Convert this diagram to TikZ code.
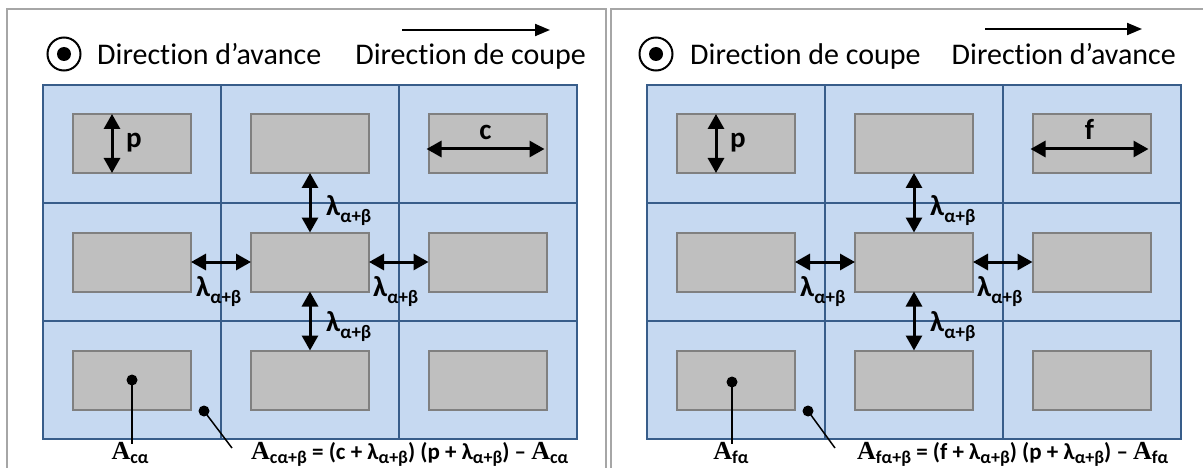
\documentclass[tikz,border=0pt]{standalone}
\usepackage{fontspec}
\setmainfont{Carlito}[Ligatures=NoCommon]
\newfontfamily\serifA{Liberation Serif}
\usetikzlibrary{arrows.meta}
\definecolor{cellfill}{HTML}{C6D9F1}
\definecolor{cellline}{HTML}{385D8A}
\definecolor{boxfill}{HTML}{BFBFBF}
\definecolor{boxline}{HTML}{808080}
\definecolor{framecol}{HTML}{A6A6A6}
\newcommand{\lsub}[1]{\raisebox{-0.25em}{\fontsize{19}{19}\selectfont\bfseries #1}}
\newcommand{\fsub}[1]{\raisebox{-0.18em}{\fontsize{18}{18}\selectfont\bfseries #1}}
\newcommand{\lamlab}{\fontsize{29}{30}\selectfont\bfseries λ\lsub{α+β}}
\newcommand{\Asym}{{\serifA\fontsize{26}{28}\selectfont\bfseries A}}
\tikzset{
  cell/.style={draw=cellline, fill=cellfill, line width=2pt, minimum width=178pt, minimum height=118pt, inner sep=0pt, outer sep=0pt},
  gbox/.style={draw=boxline, fill=boxfill, line width=2pt, minimum width=118pt, minimum height=59pt, inner sep=0pt, outer sep=0pt},
  dimarrow/.style={line width=3pt, {Triangle[length=15pt,width=16pt]}-{Triangle[length=15pt,width=16pt]}},
  hdrarrow/.style={line width=2pt, -{Triangle[length=15pt,width=12pt]}},
  framel/.style={draw=framecol, line width=2pt},
  hdr/.style={font=\fontsize{30}{34}\selectfont, inner sep=0pt},
  lab/.style={font=\fontsize{29}{30}\selectfont\bfseries, inner sep=0pt},
  lamnode/.style={inner sep=0pt, anchor=base west},
  formula/.style={font=\fontsize{23}{26}\selectfont\bfseries, inner sep=0pt},
  ptr/.style={line width=1.5pt},
}
\begin{document}
\begin{tikzpicture}[x=1pt, y=-1pt]
\useasboundingbox (0,0) rectangle (1203,468);
\fill[white] (0,0) rectangle (1203,468);
% frames
\draw[framel] (7,470) -- (7,9) -- (606,9) -- (606,470);
\draw[framel] (611,470) -- (611,9) -- (1205,9);

% ---------- left panel ----------
\foreach \r/\y in {1/144,2/262,3/380}
  \foreach \c/\x in {1/132,2/310,3/487.5}
    \node[cell] (L-c\r\c) at (\x,\y) {};
\foreach \r/\y in {1/143.5,2/262,3/380}
  \foreach \c/\x in {1/132,2/310,3/487.5}
    \node[gbox] (L-b\r\c) at (\x,\y) {};

\node[circle, draw, line width=2pt, minimum size=33pt, inner sep=0pt] (L-circ) at (64,54) {};
\fill (L-circ.center) circle (7);
\node[hdr, anchor=base west] (L-t1) at (97,65) {Direction d’avance};
\node[hdr, anchor=base east] (L-t2) at (586,65) {Direction de coupe};
\coordinate (L-a1) at (402,30);
\coordinate (L-a2) at (550,30);
\draw[hdrarrow] (L-a1) -- (L-a2);

\draw[dimarrow] ([xshift=-20pt]L-b11.north) -- ([xshift=-20pt]L-b11.south);
\node[lab, anchor=base west] (L-p) at (126,148) {p};
\draw[dimarrow] ([xshift=-2pt,yshift=-5.5pt]L-b13.west) -- ([xshift=-2pt,yshift=-5.5pt]L-b13.east);
\node[lab, anchor=base] (L-cl) at (485.5,140) {c};

\draw[dimarrow] (L-b12.south) -- (L-b22.north);
\draw[dimarrow] (L-b22.south) -- (L-b32.north);
\draw[dimarrow] (L-b21.east) -- (L-b22.west);
\draw[dimarrow] (L-b22.east) -- (L-b23.west);
\node[lamnode] (L-l1) at (326,215) {\lamlab};
\node[lamnode] (L-l2) at (196,296) {\lamlab};
\node[lamnode] (L-l3) at (373,296) {\lamlab};
\node[lamnode] (L-l4) at (326,331) {\lamlab};

\fill (L-b31.center) circle (5.5) coordinate (L-d1);
\coordinate (L-d2) at (204,411);
\fill (L-d2) circle (5.5);
\node[formula, anchor=base] (L-A) at (130,459) {\Asym\fsub{cα}};
\node[formula, anchor=base west] (L-F) at (251,459) {\Asym\fsub{cα+β} = (c + λ\fsub{α+β}) (p + λ\fsub{α+β}) – \Asym\fsub{cα}};
\coordinate (L-e1) at (132,444);
\coordinate (L-e2) at (232,448);
\draw[ptr] (L-d1) -- (L-e1);
\draw[ptr] (L-d2) -- (L-e2);

% ---------- right panel ----------
\foreach \r/\y in {1/144,2/262,3/380}
  \foreach \c/\x in {1/736,2/914,3/1091.5}
    \node[cell] (R-c\r\c) at (\x,\y) {};
\foreach \r/\y in {1/143.5,2/262,3/380}
  \foreach \c/\x in {1/736,2/914,3/1091.5}
    \node[gbox] (R-b\r\c) at (\x,\y) {};

\node[circle, draw, line width=2pt, minimum size=33pt, inner sep=0pt] (R-circ) at (656,54) {};
\fill (R-circ.center) circle (7);
\node[hdr, anchor=base west] (R-t1) at (690,65) {Direction de coupe};
\node[hdr, anchor=base east] (R-t2) at (1176,65) {Direction d’avance};
\coordinate (R-a1) at (985,29);
\coordinate (R-a2) at (1142,29);
\draw[hdrarrow] (R-a1) -- (R-a2);

\draw[dimarrow] ([xshift=-20pt]R-b11.north) -- ([xshift=-20pt]R-b11.south);
\node[lab, anchor=base west] (R-p) at (730,148) {p};
\draw[dimarrow] ([xshift=-2pt,yshift=-5.5pt]R-b13.west) -- ([xshift=-2pt,yshift=-5.5pt]R-b13.east);
\node[lab, anchor=base] (R-fl) at (1089.5,140) {f};

\draw[dimarrow] (R-b12.south) -- (R-b22.north);
\draw[dimarrow] (R-b22.south) -- (R-b32.north);
\draw[dimarrow] (R-b21.east) -- (R-b22.west);
\draw[dimarrow] (R-b22.east) -- (R-b23.west);
\node[lamnode] (R-l1) at (930,215) {\lamlab};
\node[lamnode] (R-l2) at (800,296) {\lamlab};
\node[lamnode] (R-l3) at (977,296) {\lamlab};
\node[lamnode] (R-l4) at (930,331) {\lamlab};

\coordinate (R-d1) at (732,382);
\fill (R-d1) circle (5.5);
\coordinate (R-d2) at (808,411);
\fill (R-d2) circle (5.5);
\node[formula, anchor=base] (R-A) at (731,459) {\Asym\fsub{fα}};
\node[formula, anchor=base west] (R-F) at (857,459) {\Asym\fsub{fα+β} = (f + λ\fsub{α+β}) (p + λ\fsub{α+β}) – \Asym\fsub{fα}};
\coordinate (R-e1) at (732,444);
\coordinate (R-e2) at (835,448);
\draw[ptr] (R-d1) -- (R-e1);
\draw[ptr] (R-d2) -- (R-e2);
\end{tikzpicture}
\end{document}
